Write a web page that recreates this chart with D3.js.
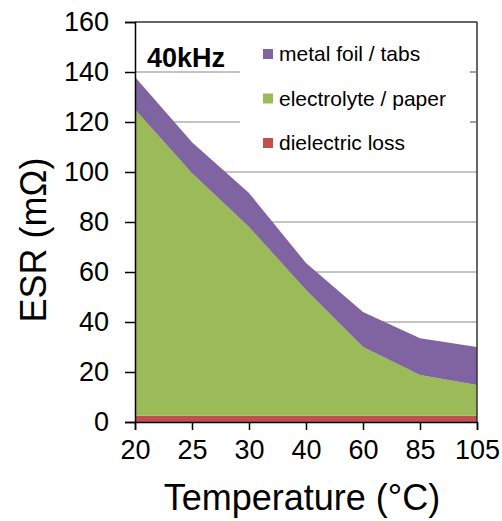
<!DOCTYPE html>
<html>
<head>
<meta charset="utf-8">
<script src="https://cdn.jsdelivr.net/npm/d3@7"></script>
<style>
  body { margin: 0; background: #fff; }
  svg { display: block; font-family: "Liberation Sans", Arial, sans-serif; }
</style>
</head>
<body>
<div id="chart"></div>
<script>
// x categories (temperature, deg C)
var temps = ["20", "25", "30", "40", "60", "85", "105"];
// stacked ESR components, mOhm
var dielectricLoss = [2.5, 2.5, 2.5, 2.5, 2.5, 2.5, 2.5];
var electrolytePaper = [122.5, 97, 75.5, 50.3, 27.5, 16.3, 12.3];
var metalFoilTabs = [13, 12.4, 13.6, 10.8, 14, 14.7, 15.2];
var yTicks = [0, 20, 40, 60, 80, 100, 120, 140, 160];

var seriesNames = ["dielectric loss", "electrolyte / paper", "metal foil / tabs"];
var seriesKeys = ["dielectric", "electrolyte", "metal"];
var colors = { dielectric: "#C0504D", electrolyte: "#9BBB59", metal: "#8064A2" };

var width = 502, height = 521;
var margin = { top: 22, right: 25, bottom: 99, left: 135 };
var w = width - margin.left - margin.right,
    h = height - margin.top - margin.bottom;

var svg = d3.select("#chart").append("svg")
  .attr("width", width)
  .attr("height", height);

var g = svg.append("g")
  .attr("transform", "translate(" + margin.left + "," + margin.top + ")");

var x = d3.scalePoint().domain(temps).range([0, w]).padding(0);
var y = d3.scaleLinear().domain([0, 160]).range([h, 0]);

// build table for the stack
var rows = temps.map(function (t, i) {
  return { t: t, dielectric: dielectricLoss[i], electrolyte: electrolytePaper[i], metal: metalFoilTabs[i] };
});
var stacked = d3.stack().keys(seriesKeys)(rows);

// gridlines
g.append("g")
  .selectAll("line")
  .data(yTicks.filter(function (d) { return d > 0 && d < 160; }))
  .enter().append("line")
  .attr("x1", 0).attr("x2", w)
  .attr("y1", function (d) { return y(d); })
  .attr("y2", function (d) { return y(d); })
  .style("stroke", "#8a8a8a")
  .style("stroke-width", 1.2);

// legend box covers gridlines
g.append("rect")
  .attr("x", 105).attr("y", 1)
  .attr("width", w - 112).attr("height", 143)
  .style("fill", "#fff");

var area = d3.area()
  .x(function (d) { return x(d.data.t); })
  .y0(function (d) { return y(d[0]); })
  .y1(function (d) { return y(d[1]); });

g.selectAll("path.layer")
  .data(stacked)
  .enter().append("path")
  .attr("class", "layer")
  .attr("d", area)
  .style("fill", function (d) { return colors[d.key]; });

// plot border top/right
g.append("line").attr("x1", 0).attr("x2", w).attr("y1", 0).attr("y2", 0)
  .style("stroke", "#333").style("stroke-width", 1.5);
g.append("line").attr("x1", w).attr("x2", w).attr("y1", 0).attr("y2", h)
  .style("stroke", "#333").style("stroke-width", 1.5);

// axes
var yAxis = g.append("g")
  .call(d3.axisLeft(y).tickValues(yTicks).tickSize(10).tickPadding(16));
var xAxis = g.append("g")
  .attr("transform", "translate(0," + h + ")")
  .call(d3.axisBottom(x).tickSize(8).tickPadding(9));

[yAxis, xAxis].forEach(function (a) {
  a.select(".domain").style("stroke", "#000").style("stroke-width", 1.5);
  a.selectAll(".tick line").style("stroke", "#000").style("stroke-width", 1.5);
  a.selectAll("text")
    .style("font-family", "'Liberation Sans', Arial, sans-serif")
    .style("font-size", "27px")
    .style("fill", "#000");
});
xAxis.selectAll("text").attr("dy", "0.75em");

// right side small ticks visible next to legend
g.append("g")
  .selectAll("line")
  .data([120, 140])
  .enter().append("line")
  .attr("x1", w - 7).attr("x2", w)
  .attr("y1", function (d) { return y(d); })
  .attr("y2", function (d) { return y(d); })
  .style("stroke", "#8a8a8a").style("stroke-width", 1.2);

// frequency label
g.append("text")
  .attr("x", 12).attr("y", 45)
  .style("font-size", "27px").style("font-weight", "bold")
  .text("40kHz");

// legend
var legend = g.append("g").attr("transform", "translate(128,32)");
var legendOrder = [2, 1, 0];
legend.selectAll("g")
  .data(legendOrder)
  .enter().append("g")
  .attr("transform", function (d, i) { return "translate(0," + (i * 44.5) + ")"; })
  .each(function (k) {
    var row = d3.select(this);
    row.append("rect")
      .attr("x", 0).attr("y", -5)
      .attr("width", 10).attr("height", 10)
      .style("fill", colors[seriesKeys[k]]);
    row.append("text")
      .attr("x", 16).attr("y", 0).attr("dy", "0.35em")
      .style("font-size", "21px")
      .text(seriesNames[k]);
  });

// axis titles
svg.append("text")
  .attr("transform", "translate(46," + (margin.top + h / 2 + 18) + ") rotate(-90)")
  .attr("text-anchor", "middle")
  .style("font-size", "36px")
  .text("ESR (m\u03A9)");

svg.append("text")
  .attr("x", margin.left + w / 2 - 4)
  .attr("y", 510)
  .attr("text-anchor", "middle")
  .style("font-size", "36px")
  .text("Temperature (\u00B0C)");
</script>
</body>
</html>
